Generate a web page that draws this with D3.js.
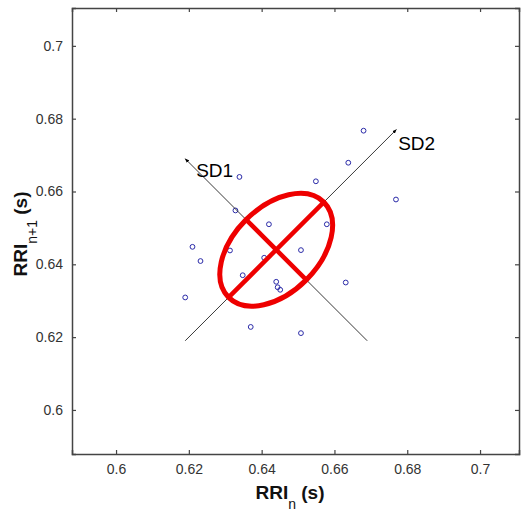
<!DOCTYPE html>
<html>
<head>
<meta charset="utf-8">
<script src="https://cdn.jsdelivr.net/npm/d3@7"></script>
<style>
  body { margin: 0; background: #fff; }
  text { font-family: "Liberation Sans", Arial, sans-serif; }
</style>
</head>
<body>
<svg id="chart" width="521" height="511"></svg>
<script>
// RRI_n and RRI_n+1 pairs (s)
var rriN  = [0.6680,0.6638,0.6549,0.6769,0.6339,0.6328,0.6210,0.6313,0.6232,0.6190,0.6348,
             0.6370,0.6420,0.6579,0.6508,0.6407,0.6440,0.6444,0.6451,0.6631,0.6508]
var rriN1 = [0.6767,0.6679,0.6628,0.6578,0.6640,0.6548,0.6448,0.6438,0.6409,0.6309,0.6370,
             0.6228,0.6510,0.6510,0.6439,0.6418,0.6352,0.6337,0.6330,0.6350,0.6211]
var ticks = [0.6,0.62,0.64,0.66,0.68,0.7]
var center = [0.644,0.644]
var sd1 = 0.0117, sd2 = 0.0185
// axis guide lines (start, end) in data units
var sd1Axis = [[0.669,0.619],[0.619,0.669]]
var sd2Axis = [[0.619,0.619],[0.677,0.677]]

var margin = {top:8, right:2, bottom:57, left:72}
var W = 521, H = 511
var svg = d3.select('#chart')

var x = d3.scaleLinear().domain([0.5879,0.7107]).range([margin.left, W-margin.right])
var y = d3.scaleLinear().domain([0.5879,0.7104]).range([H-margin.bottom, margin.top])

svg.append("defs").append("marker")
  .attr("id","arr").attr("viewBox","0 0 10 10").attr("refX",9).attr("refY",5)
  .attr("markerWidth",5).attr("markerHeight",5).attr("orient","auto")
  .append("path").attr("d","M0,1L10,5L0,9Z").attr("fill","#000")

var axisColor = "#444"
// ticks pointing inward on all four sides
svg.append("g").attr("transform","translate(0,"+y.range()[0]+")")
  .call(d3.axisBottom(x).tickValues(ticks).tickSize(-4).tickPadding(10).tickFormat(d3.format("")))
svg.append("g").attr("transform","translate(0,"+y.range()[1]+")")
  .call(d3.axisTop(x).tickValues(ticks).tickSize(-4).tickFormat(""))
svg.append("g").attr("transform","translate("+x.range()[0]+",0)")
  .call(d3.axisLeft(y).tickValues(ticks).tickSize(-4).tickPadding(9).tickFormat(d3.format("")))
svg.append("g").attr("transform","translate("+x.range()[1]+",0)")
  .call(d3.axisRight(y).tickValues(ticks).tickSize(-4).tickFormat(""))

svg.selectAll(".domain").attr("stroke",axisColor).attr("stroke-width",1.5)
svg.selectAll(".tick line").attr("stroke",axisColor).attr("stroke-width",1.2)
svg.selectAll(".tick text").attr("fill","#333").style("font-size","14px")
  .style("font-family","'Liberation Sans', Arial, sans-serif")

// points
svg.append("g").selectAll("circle")
  .data(rriN)
  .enter()
  .append("circle")
  .attr("cx",function(d,i){ return x(d) })
  .attr("cy",function(d,i){ return y(rriN1[i]) })
  .attr("r",2.4)
  .attr("fill","none")
  .attr("stroke","#2a2aa8")
  .attr("stroke-width",1)

// SD axes
var line = d3.line().x(function(d){ return x(d[0]) }).y(function(d){ return y(d[1]) })
svg.append("path").attr("d",line(sd1Axis)).attr("stroke","#222").attr("stroke-width",0.9)
  .attr("fill","none").attr("marker-end","url(#arr)")
svg.append("path").attr("d",line(sd2Axis)).attr("stroke","#222").attr("stroke-width",0.9)
  .attr("fill","none").attr("marker-end","url(#arr)")

// ellipse
var cx = x(center[0]), cy = y(center[1])
var rx = x(center[0]+sd2) - cx
var ry = x(center[0]+sd1) - cx
svg.append("ellipse")
  .attr("cx",cx).attr("cy",cy).attr("rx",rx).attr("ry",ry)
  .attr("transform","rotate(-45,"+cx+","+cy+")")
  .attr("fill","none").attr("stroke","#ee0000").attr("stroke-width",5)

var k1 = sd1/Math.SQRT2, k2 = sd2/Math.SQRT2
var cross = [
  [[center[0]-k2,center[1]-k2],[center[0]+k2,center[1]+k2]],
  [[center[0]-k1,center[1]+k1],[center[0]+k1,center[1]-k1]]
]
svg.append("g").selectAll("path")
  .data(cross).enter().append("path")
  .attr("d",function(d){ return line(d) })
  .attr("stroke","#ee0000").attr("stroke-width",4.5).attr("fill","none")

// labels
svg.append("text").attr("x",x(0.6220)).attr("y",y(0.6640)).text("SD1")
  .style("font-size","19px").attr("fill","#000")
svg.append("text").attr("x",x(0.6775)).attr("y",y(0.6714)).text("SD2")
  .style("font-size","19px").attr("fill","#000")

var xl = svg.append("text").attr("x",290).attr("y",499).attr("text-anchor","middle")
  .style("font-size","19px").style("font-weight","bold").attr("fill","#111")
xl.append("tspan").text("RRI")
xl.append("tspan").attr("dy",10).style("font-size","14px").style("font-weight","normal").text("n")
xl.append("tspan").attr("dy",-10).text(" (s)")

var yl = svg.append("text").attr("transform","translate(27,234) rotate(-90)").attr("text-anchor","middle")
  .style("font-size","19px").style("font-weight","bold").attr("fill","#111")
yl.append("tspan").text("RRI")
yl.append("tspan").attr("dy",10).style("font-size","14px").style("font-weight","normal").text("n+1")
yl.append("tspan").attr("dy",-10).text(" (s)")
</script>
</body>
</html>
